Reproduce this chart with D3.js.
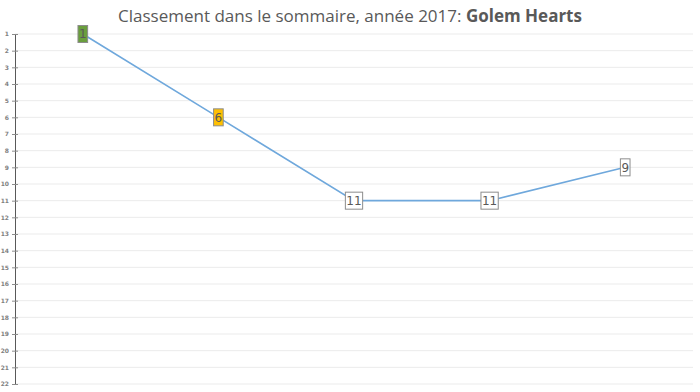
<!DOCTYPE html>
<html>
<head>
<meta charset="utf-8">
<script src="https://cdn.jsdelivr.net/npm/d3@7"></script>
<style>
  body { margin: 0; background: #fff; }
  svg { display: block; }
</style>
</head>
<body>
<div id="chart"></div>
<script>
// data
var titleMain = "Classement dans le sommaire, année 2017: ";
var titleBand = "Golem Hearts";
var issues = ["n1", "n2", "n3", "n4", "n5"];
var ranks = [1, 6, 11, 11, 9];
var labelColors = ["#6a9e3d", "#ffc000", "#ffffff", "#ffffff", "#ffffff"];
var rankTicks = d3.range(1, 23);

var width = 700, height = 392;
var margin = {top: 34, right: 7, bottom: 8, left: 15};

var svg = d3.select("#chart").append("svg")
    .attr("width", width)
    .attr("height", height);

// title
var title = svg.append("text")
    .attr("x", width / 2)
    .attr("y", 22)
    .attr("text-anchor", "middle")
    .style("font-family", "'Open Sans', sans-serif")
    .style("font-size", "17px")
    .style("fill", "#595959");
title.append("tspan").text(titleMain);
title.append("tspan").style("font-weight", "bold").text(titleBand);

var x = d3.scaleBand()
    .domain(issues)
    .range([margin.left, width - margin.right]);

var y = d3.scaleLinear()
    .domain([1, 22])
    .range([margin.top, height - margin.bottom]);

// gridlines
svg.append("g")
    .selectAll("line")
    .data(rankTicks)
    .enter().append("line")
    .attr("x1", margin.left)
    .attr("x2", width - margin.right)
    .attr("y1", function(d){ return y(d); })
    .attr("y2", function(d){ return y(d); })
    .attr("stroke", "#ebebeb")
    .attr("stroke-width", 1);

// y axis
var yAxis = svg.append("g")
    .attr("transform", "translate(" + margin.left + ",0)")
    .call(d3.axisLeft(y).tickValues(rankTicks).tickSize(0).tickPadding(6));
yAxis.select(".domain").attr("stroke", "#595959");
yAxis.selectAll("text")
    .style("font-family", "'DejaVu Sans', sans-serif")
    .style("font-size", "6px")
    .style("font-weight", "bold")
    .style("fill", "#7f7f7f");
yAxis.selectAll(".tick").append("line")
    .attr("x1", -3).attr("x2", 3)
    .attr("stroke", "#8c8c8c");

// line
var line = d3.line()
    .x(function(d, i){ return x(issues[i]) + x.bandwidth() / 2; })
    .y(function(d){ return y(d); });

svg.append("path")
    .datum(ranks)
    .attr("fill", "none")
    .attr("stroke", "#6fa8dc")
    .attr("stroke-width", 1.6)
    .attr("d", line);

// data labels
var labels = svg.append("g")
    .selectAll("g")
    .data(ranks)
    .enter().append("g")
    .attr("transform", function(d, i){
        return "translate(" + (x(issues[i]) + x.bandwidth() / 2) + "," + y(d) + ")";
    });

labels.append("text")
    .attr("text-anchor", "middle")
    .attr("dy", "0.36em")
    .style("font-family", "'DejaVu Sans', sans-serif")
    .style("font-size", "12px")
    .style("fill", "#595959")
    .text(function(d){ return d; })
    .each(function(d, i){
        var b = this.getBBox();
        d3.select(this.parentNode).insert("rect", "text")
            .attr("x", b.x - 1)
            .attr("y", -8.5)
            .attr("width", b.width + 2)
            .attr("height", 17)
            .attr("fill", labelColors[i])
            .attr("stroke", "#8c8c8c")
            .attr("stroke-width", 1);
    });
</script>
</body>
</html>
